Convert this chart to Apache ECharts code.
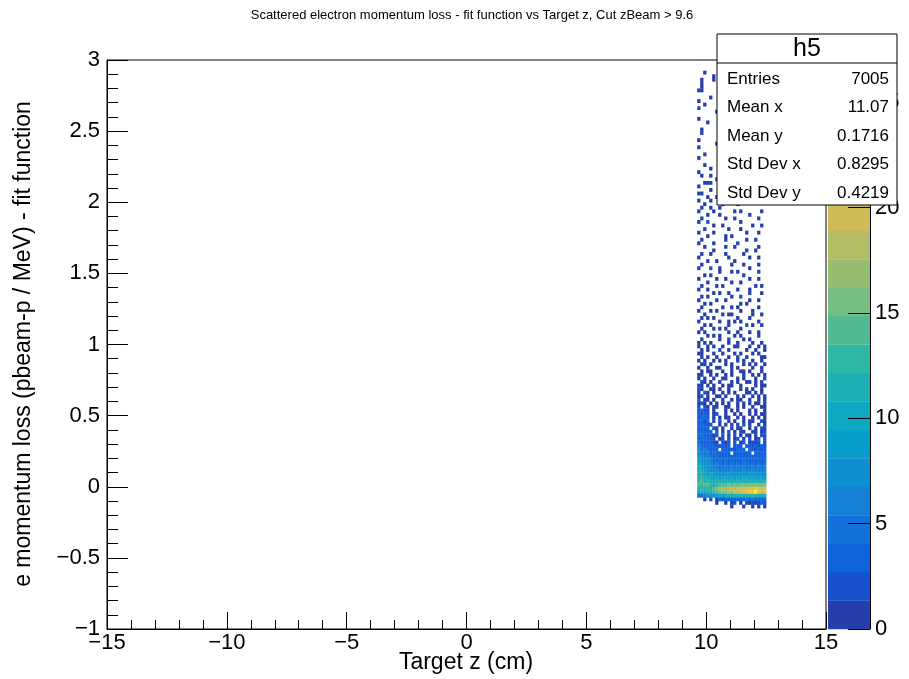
<!DOCTYPE html>
<html>
<head>
<meta charset="utf-8">
<script src="https://cdn.jsdelivr.net/npm/echarts@6/dist/echarts.min.js"></script>
<style>
  html, body { margin: 0; padding: 0; background: #ffffff; }
  #chart { width: 909px; height: 679px; }
</style>
</head>
<body>
<div id="chart"></div>
<script>
// ---- texts ----
const titleText = 'Scattered electron momentum loss - fit function vs Target z, Cut zBeam > 9.6';
const xAxisTitle = 'Target z (cm)';
const yAxisTitle = 'e momentum loss (pbeam-p / MeV) - fit function';
const histName = 'h5';
const statLabels = ['Entries', 'Mean x', 'Mean y', 'Std Dev x', 'Std Dev y'];
const statValues = ['7005', '11.07', '0.1716', '0.8295', '0.4219'];

// ---- axis ranges ----
const xRange = [-15, 15];
const yRange = [-1, 3];
const zRange = [0, 27];
const zLevels = 20;

// ---- 2D histogram bins ----
// lower-left edge of the first bin and the bin widths
const binOrigin = [9.625, -0.15];
const binSize = [0.125, 0.025];
// one string per y bin, highest bin first; one character per x bin
// '.' = empty, '1'..'9' = 1..9, 'a' = 10, 'b' = 11, ... 'q' = 26
const cellRows = [
  '..1',
  '.....1',
  '.1...1',
  '.1',
  '.1......1',
  '11',
  '',
  '....1',
  '1.......1',
  '..1',
  '2',
  '......1',
  '',
  '1',
  '...1',
  '',
  '.1',
  '.1.....1',
  '',
  '1',
  '......1',
  '1',
  '',
  '..1',
  '1',
  '',
  '..1.....1',
  '....1',
  '1',
  '.1..1',
  '......1',
  '..111',
  '1',
  '....1',
  '11.....1',
  '...1..1',
  '1...1',
  '..1.....1....1',
  '.1..1..1',
  '1....1......1.1......1',
  '...1...1.........1',
  '.1.......1..1.......1',
  '1..2..........1',
  '.....1..1.........1..1',
  '..1.......1...1',
  '1....1..........1...1',
  '...1.....1.1',
  '.1.......1......1..1',
  '1....1.......1',
  '..1......1..1.......1',
  '.....1..........1..1',
  '.1..1....1.....1',
  '1.........1......1..1',
  '...1..1.....1',
  '.1.........1...1....1',
  '1...2..1.........1',
  '.......1...1.1......1',
  '..1.1..........1',
  '1.....1..1.......1..1',
  '...1.......1..1',
  '.1....1.1..........1.1',
  '1..1.........1...1',
  '.....1.1..1......1...1',
  '.1.1.......1..2',
  '1.....1..1.......1..1',
  '..1.1.........1.1',
  '.1......1..1.1......1',
  '1...1.1.......1...1',
  '..1.....1.11......1..1',
  '.1.1.1.......1...1',
  '1......1..1.1.1.....1',
  '..1.1.....1.....2.1..1',
  '.1...1.1.1....1',
  '1.1.......1..1...1..1',
  '...1.1.1....1.1.....1',
  '.1.....1..2....1.1',
  '1.1.1.....1..1....1..1',
  '1..1.1..1...11...1..1.1',
  '.1.1...2..1.....1..1..1',
  '11...1..1...1.1...1.1',
  '.1.1..1...1..1..1....11',
  '1.1..1.1.1...1.1..1..1',
  '.11.1....1.1...1.1.1..1',
  '1..1..11...1.1....1..1',
  '.1.11...1..1..11.1...1',
  '11..1.1..1.1...1..1.1.1',
  '1.1..1..11...1.1...1..1',
  '.21.1..1...1.1..11.1.1',
  '11.1.1..1.11..1....1.11',
  '21..11.1..1...1.1.1..1',
  '1.21.1..1.1.1...11.1.1',
  '12.1..11.1...1.1..1.1.1',
  '2.11.1..1..1.11..1..1.1',
  '121.1.1.1.1..1.1.1.11.1',
  '2.21.11..11..1.1..1..11',
  '2322.1...1.1.1...1.1..1',
  '3232.12..1..1.1..1.1.11',
  '2343.1.1.11..1.1..1.1.1',
  '3324.1.2..1.1..1.11..21',
  '43322..1.1.1.1.2.1..1.1',
  '3443.21.1..1.11..1.1.21',
  '44433.2.1.2.1.21..21.12',
  '4534312.2.1.2.1.21.1.22',
  '445432.12.2.12.1.2.12.2',
  '5443421.212.2.12.1212.2',
  '65434322323.232.3223232',
  '7565434.43342434.332323',
  '76564543434.434343.4343',
  '87665454343434344343434',
  '98776545454444454444344',
  'a9876565454545455454545',
  'ba987665565656565565656',
  'bba98776666766676676666',
  'bba9a988889888988988888',
  'cdcba9a9aa9a9a9aa9a99a9',
  'decdcbbbcbbcbcbbcbbcbcb',
  'edeedcdeeefefefgffgfgfg',
  'cdcdcefhihijijkjkllmlkl',
  'abacbdeghgihjikjlmmqlkl',
  '5567889a9abacbcbcbdcbcb',
  '..1.2.13233434345454443',
  '......1..1.12.1.2121232',
  '...........1...1..1.1.1'
];

// ---- colour palette (ROOT "bird") ----
const birdStops = [0.0, 0.125, 0.25, 0.375, 0.5, 0.625, 0.75, 0.875, 1.0];
const birdRed   = [0.2082, 0.0592, 0.0780, 0.0232, 0.1802, 0.5301, 0.8186, 0.9956, 0.9764];
const birdGreen = [0.1664, 0.3599, 0.5041, 0.6419, 0.7178, 0.7492, 0.7328, 0.7862, 0.9832];
const birdBlue  = [0.5293, 0.8684, 0.8385, 0.7914, 0.6425, 0.4662, 0.3499, 0.1968, 0.0539];

function birdColor(t) {
  let i = 0;
  while (i < birdStops.length - 2 && t > birdStops[i + 1]) i++;
  const f = (t - birdStops[i]) / (birdStops[i + 1] - birdStops[i]);
  const mix = (arr) => Math.round(255 * (arr[i] + f * (arr[i + 1] - arr[i])));
  return 'rgb(' + mix(birdRed) + ',' + mix(birdGreen) + ',' + mix(birdBlue) + ')';
}
// each contour band takes the palette colour at its upper end
const bandColors = [];
for (let i = 0; i < zLevels; i++) bandColors.push(birdColor((i + 1) / zLevels));
const bandStep = (zRange[1] - zRange[0]) / zLevels;
function colorFor(v) {
  let k = Math.floor((v - zRange[0]) / bandStep);
  k = Math.max(0, Math.min(zLevels - 1, k));
  return bandColors[k];
}

// ---- build the cell list ----
function decode(ch) {
  if (ch >= '1' && ch <= '9') return ch.charCodeAt(0) - 48;
  if (ch >= 'a' && ch <= 'z') return ch.charCodeAt(0) - 87;
  return 0;
}
const cells = [];
const nRows = cellRows.length;
cellRows.forEach((row, i) => {
  const yi = nRows - 1 - i;
  for (let xi = 0; xi < row.length; xi++) {
    const v = decode(row[xi]);
    if (v > 0) {
      cells.push([binOrigin[0] + xi * binSize[0], binOrigin[1] + yi * binSize[1], v]);
    }
  }
});

const bands = bandColors.map((c, i) => [zRange[0] + i * bandStep, zRange[0] + (i + 1) * bandStep, i]);

const FONT = '"Liberation Sans", Arial, Helvetica, sans-serif';
const minus = (v) => String(v).replace('-', '\u2212');

const chart = echarts.init(document.getElementById('chart'), null, { renderer: 'canvas' });

const option = {
  animation: false,
  backgroundColor: '#ffffff',
  textStyle: { fontFamily: FONT },
  title: {
    text: titleText,
    left: 467,
    top: 4,
    textAlign: 'center',
    textStyle: { fontFamily: FONT, fontSize: 13, fontWeight: 'normal', color: '#000' }
  },
  grid: [
    { left: 107, top: 60, width: 719, height: 569, show: true, borderColor: '#000', borderWidth: 1,
      backgroundColor: 'transparent', containLabel: false, outerBoundsMode: 'none' },
    { left: 828, top: 60, width: 42, height: 569, show: false, containLabel: false, outerBoundsMode: 'none' }
  ],
  xAxis: [
    {
      gridIndex: 0, type: 'value', min: xRange[0], max: xRange[1], interval: 5,
      axisLine: { show: true, onZero: false, lineStyle: { color: '#000', width: 1 } },
      axisTick: { show: true, inside: true, length: 17, lineStyle: { color: '#000' } },
      minorTick: { show: true, splitNumber: 5, length: 9, lineStyle: { color: '#000' } },
      axisLabel: { fontFamily: FONT, fontSize: 22, color: '#000', margin: 3, formatter: minus },
      splitLine: { show: false }
    },
    { gridIndex: 1, type: 'value', min: 0, max: 1, show: false }
  ],
  yAxis: [
    {
      gridIndex: 0, type: 'value', min: yRange[0], max: yRange[1], interval: 0.5,
      axisLine: { show: true, onZero: false, lineStyle: { color: '#000', width: 1 } },
      axisTick: { show: true, inside: true, length: 21, lineStyle: { color: '#000' } },
      minorTick: { show: true, splitNumber: 5, length: 11, lineStyle: { color: '#000' } },
      axisLabel: { fontFamily: FONT, fontSize: 22, color: '#000', margin: 7, formatter: minus },
      splitLine: { show: false }
    },
    {
      gridIndex: 1, type: 'value', min: zRange[0], max: zRange[1], interval: 5, position: 'right',
      axisLine: { show: true, onZero: false, lineStyle: { color: '#000', width: 1 } },
      axisTick: { show: true, inside: true, length: 22, lineStyle: { color: '#000' } },
      axisLabel: { fontFamily: FONT, fontSize: 22, color: '#000', margin: 5, showMaxLabel: false },
      splitLine: { show: false },
      z: 5
    }
  ],
  series: [
    {
      type: 'custom',
      xAxisIndex: 0, yAxisIndex: 0,
      clip: true,
      data: cells,
      renderItem: function (params, api) {
        const x0 = api.value(0), y0 = api.value(1);
        const p0 = api.coord([x0, y0]);
        const p1 = api.coord([x0 + binSize[0], y0 + binSize[1]]);
        return {
          type: 'rect',
          shape: { x: p0[0], y: p1[1], width: p1[0] - p0[0] + 0.3, height: p0[1] - p1[1] + 0.3 },
          style: { fill: colorFor(api.value(2)) }
        };
      }
    },
    {
      type: 'custom',
      xAxisIndex: 1, yAxisIndex: 1,
      data: bands,
      z: 1,
      renderItem: function (params, api) {
        const lo = api.coord([0, api.value(0)]);
        const hi = api.coord([1, api.value(1)]);
        return {
          type: 'rect',
          shape: { x: lo[0], y: hi[1], width: hi[0] - lo[0], height: lo[1] - hi[1] + 0.3 },
          style: { fill: bandColors[api.value(2)] }
        };
      }
    }
  ],
  graphic: [
    {
      type: 'text',
      x: 466, y: 663,
      style: { text: xAxisTitle, fontFamily: FONT, fontSize: 23, fill: '#000', textAlign: 'center', textVerticalAlign: 'middle' }
    },
    {
      type: 'text',
      x: 24, y: 344,
      rotation: Math.PI / 2,
      style: { text: yAxisTitle, fontFamily: FONT, fontSize: 23, fill: '#000', textAlign: 'center', textVerticalAlign: 'middle' }
    },
    {
      type: 'group',
      x: 717, y: 34,
      z: 100,
      children: [
        { type: 'rect', shape: { x: 0, y: 0, width: 180, height: 171 }, style: { fill: '#fff', stroke: '#000', lineWidth: 1 }, z: 100 },
        { type: 'line', shape: { x1: 0, y1: 29, x2: 180, y2: 29 }, style: { stroke: '#000', lineWidth: 1 }, z: 101 },
        { type: 'text', x: 90, y: 15, style: { text: histName, fontFamily: FONT, fontSize: 25, fill: '#000', textAlign: 'center', textVerticalAlign: 'middle' }, z: 101 }
      ].concat(statLabels.map((s, i) => ({
        type: 'text', x: 10, y: 45 + i * 28.5,
        style: { text: s, fontFamily: FONT, fontSize: 17, fill: '#000', textAlign: 'left', textVerticalAlign: 'middle' }, z: 101
      }))).concat(statValues.map((s, i) => ({
        type: 'text', x: 172, y: 45 + i * 28.5,
        style: { text: s, fontFamily: FONT, fontSize: 17, fill: '#000', textAlign: 'right', textVerticalAlign: 'middle' }, z: 101
      })))
    }
  ]
};

chart.setOption(option);
</script>
</body>
</html>
